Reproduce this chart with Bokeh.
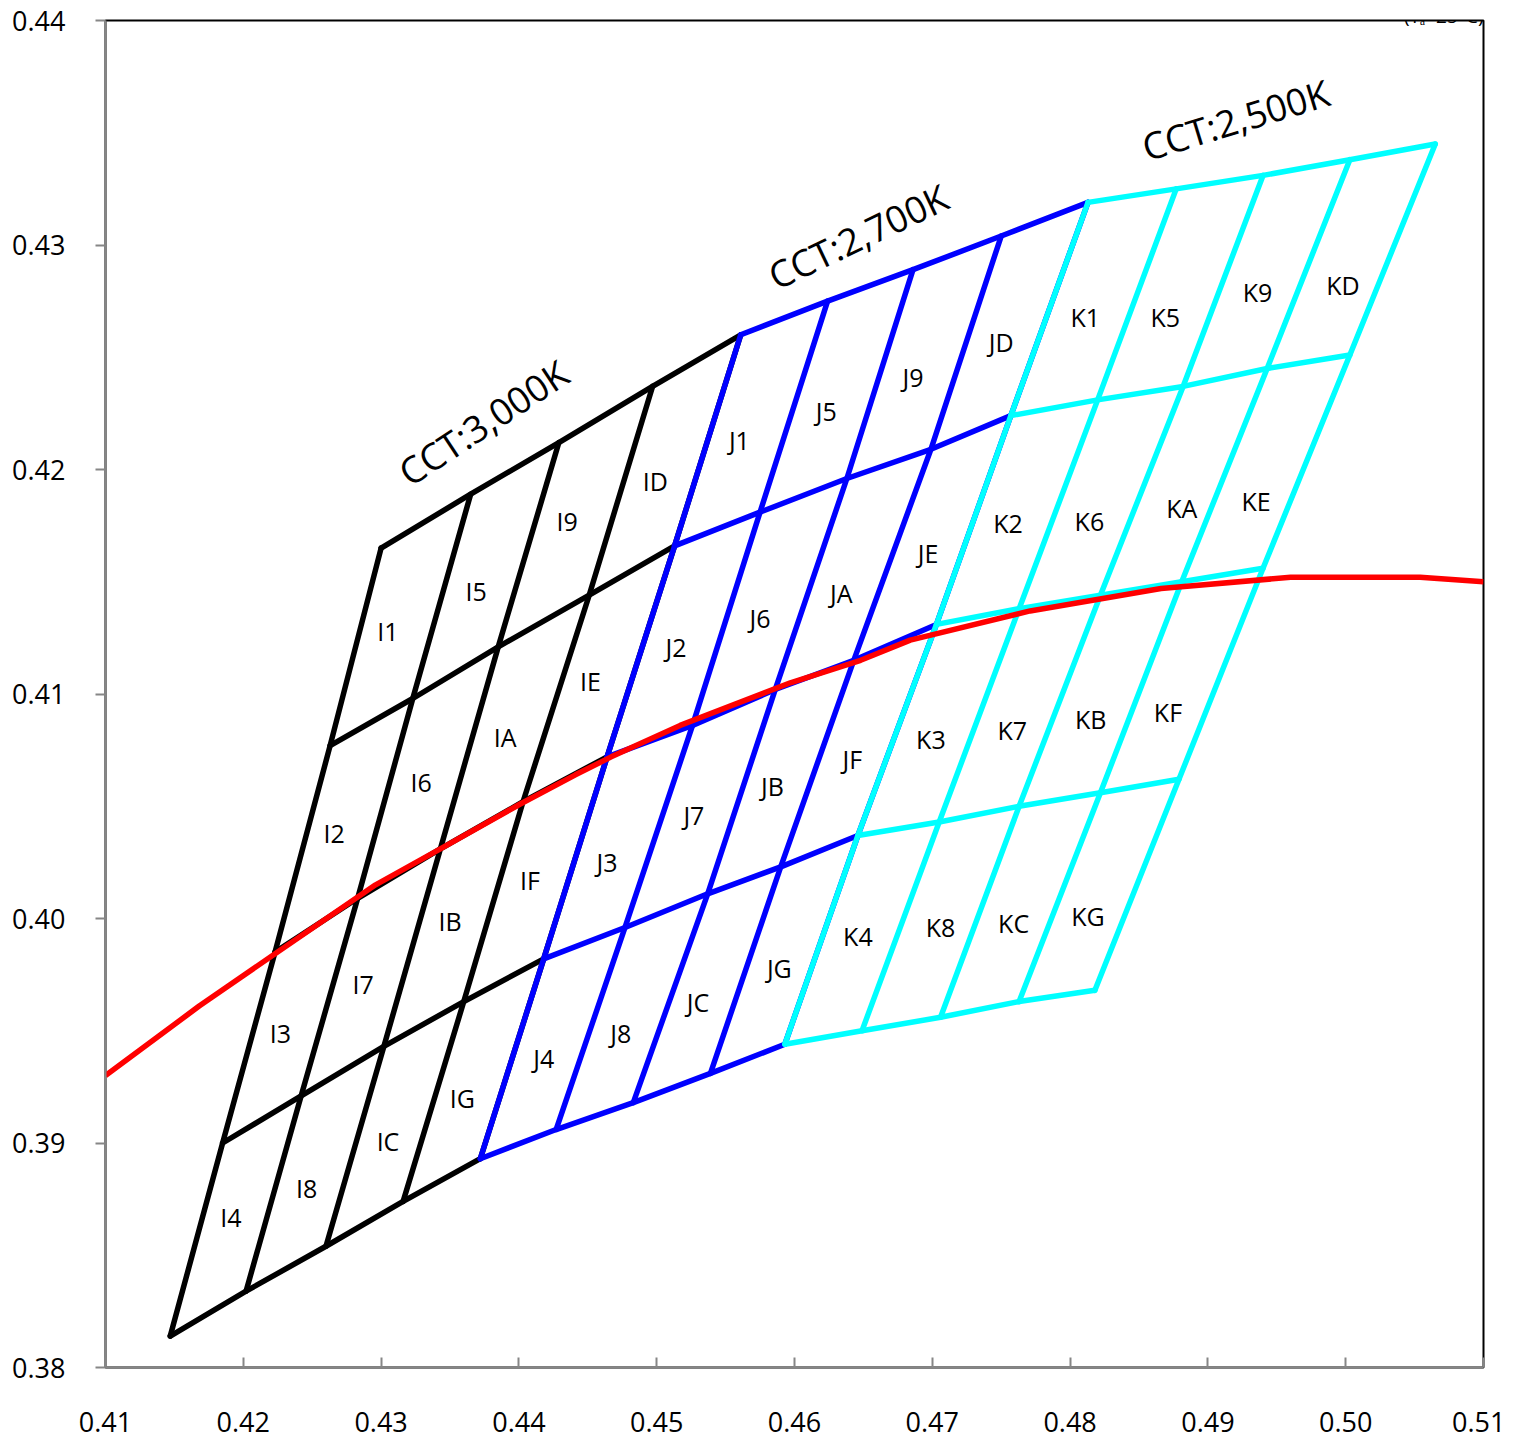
from bokeh.plotting import figure
from bokeh.models import Range1d, FixedTicker, NumeralTickFormatter, Label
from bokeh.embed import file_html
from bokeh.resources import INLINE
from bokeh.core.properties import value

# ---------------- data ----------------
x_ticks = [0.41, 0.42, 0.43, 0.44, 0.45, 0.46, 0.47, 0.48, 0.49, 0.50, 0.51]
y_ticks = [0.38, 0.39, 0.40, 0.41, 0.42, 0.43, 0.44]

# CCT 3,000K grid nodes (rows top->bottom, columns left->right)
I_x = [
    [0.4300, 0.4365, 0.4429, 0.4497, 0.4561],
    [0.4263, 0.4323, 0.4385, 0.4451, 0.4513],
    [0.4223, 0.4283, 0.4343, 0.4403, 0.4464],
    [0.4185, 0.4242, 0.4302, 0.4360, 0.4418],
    [0.4147, 0.4202, 0.4260, 0.4316, 0.4372],
]
I_y = [
    [0.4165, 0.4189, 0.4212, 0.4237, 0.4260],
    [0.4077, 0.4098, 0.4121, 0.4144, 0.4166],
    [0.3985, 0.4009, 0.4031, 0.4052, 0.4072],
    [0.3900, 0.3921, 0.3943, 0.3963, 0.3982],
    [0.3814, 0.3834, 0.3854, 0.3874, 0.3893],
]
# CCT 2,700K grid nodes
J_x = [
    [0.4561, 0.4624, 0.4686, 0.4750, 0.4813],
    [0.4513, 0.4575, 0.4638, 0.4699, 0.4757],
    [0.4464, 0.4526, 0.4586, 0.4643, 0.4703],
    [0.4418, 0.4477, 0.4537, 0.4590, 0.4646],
    [0.4372, 0.4427, 0.4483, 0.4539, 0.4593],
]
J_y = [
    [0.4260, 0.4275, 0.4289, 0.4304, 0.4319],
    [0.4166, 0.4181, 0.4196, 0.4209, 0.4224],
    [0.4072, 0.4086, 0.4102, 0.4115, 0.4131],
    [0.3982, 0.3996, 0.4011, 0.4023, 0.4037],
    [0.3893, 0.3906, 0.3918, 0.3931, 0.3944],
]
# CCT 2,500K grid nodes
K_x = [
    [0.4813, 0.4877, 0.4940, 0.5003, 0.5065],
    [0.4757, 0.4820, 0.4882, 0.4943, 0.5003],
    [0.4703, 0.4763, 0.4822, 0.4881, 0.4940],
    [0.4646, 0.4705, 0.4763, 0.4822, 0.4879],
    [0.4593, 0.4649, 0.4706, 0.4763, 0.4818],
]
K_y = [
    [0.4319, 0.4325, 0.4331, 0.4338, 0.4345],
    [0.4224, 0.4231, 0.4237, 0.4245, 0.4251],
    [0.4131, 0.4138, 0.4144, 0.4150, 0.4156],
    [0.4037, 0.4043, 0.4050, 0.4056, 0.4062],
    [0.3944, 0.3950, 0.3956, 0.3963, 0.3968],
]

# Planckian locus (red)
planck_x = [0.4100, 0.4168, 0.4227, 0.4296, 0.4343, 0.4401, 0.4441, 0.4467, 0.4517,
            0.4597, 0.4648, 0.4684, 0.4771, 0.4866, 0.4960, 0.5054, 0.5100]
planck_y = [0.3930, 0.3961, 0.3986, 0.4015, 0.4031, 0.4051, 0.4064, 0.4072, 0.4086,
            0.4105, 0.4115, 0.4124, 0.4137, 0.4147, 0.4152, 0.4152, 0.4150]

# bin labels
bin_names = ["I1", "I5", "I9", "ID", "I2", "I6", "IA", "IE",
             "I3", "I7", "IB", "IF", "I4", "I8", "IC", "IG",
             "J1", "J5", "J9", "JD", "J2", "J6", "JA", "JE",
             "J3", "J7", "JB", "JF", "J4", "J8", "JC", "JG",
             "K1", "K5", "K9", "KD", "K2", "K6", "KA", "KE",
             "K3", "K7", "KB", "KF", "K4", "K8", "KC", "KG"]
bin_x = [0.4305, 0.4369, 0.4435, 0.4499, 0.4266, 0.4329, 0.4390, 0.4452,
         0.4227, 0.4287, 0.4350, 0.4408, 0.4191, 0.4246, 0.4305, 0.4359,
         0.4560, 0.4623, 0.4686, 0.4750, 0.4514, 0.4575, 0.4634, 0.4697,
         0.4464, 0.4527, 0.4584, 0.4642, 0.4418, 0.4474, 0.4530, 0.4589,
         0.4811, 0.4869, 0.4936, 0.4998, 0.4755, 0.4814, 0.4881, 0.4935,
         0.4699, 0.4758, 0.4815, 0.4871, 0.4646, 0.4706, 0.4759, 0.4813]
bin_y = [0.4128, 0.4146, 0.4177, 0.4195, 0.4038, 0.4061, 0.4081, 0.4106,
         0.3949, 0.3971, 0.3999, 0.4017, 0.3867, 0.3880, 0.3901, 0.3920,
         0.4213, 0.4226, 0.4241, 0.4257, 0.4121, 0.4134, 0.4145, 0.4163,
         0.4025, 0.4046, 0.4059, 0.4071, 0.3938, 0.3949, 0.3963, 0.3978,
         0.4268, 0.4268, 0.4279, 0.4282, 0.4176, 0.4177, 0.4183, 0.4186,
         0.4080, 0.4084, 0.4089, 0.4092, 0.3992, 0.3996, 0.3998, 0.4001]

cct_names = ["CCT:3,000K", "CCT:2,700K", "CCT:2,500K"]
cct_x = [0.4374, 0.4646, 0.4920]
cct_y = [0.4221, 0.4304, 0.4356]
cct_angle = [33.5, 25.5, 17.0]

note_text = "(T\u2090=25\u00b0C)"

# ---------------- figure ----------------
FONT = "Open Sans"
p = figure(width=1505, height=1440,
           x_range=Range1d(0.41, 0.51), y_range=Range1d(0.38, 0.44),
           output_backend="svg", toolbar_location=None,
           min_border_left=105, min_border_right=22,
           min_border_top=20, min_border_bottom=73)
p.grid.visible = False
p.background_fill_color = "white"
p.border_fill_color = "white"
p.outline_line_color = "black"
p.outline_line_width = 2

for ax in (p.xaxis, p.yaxis):
    ax.axis_line_color = "#868686"
    ax.axis_line_width = 2
    ax.major_tick_line_color = "#868686"
    ax.major_tick_line_width = 2
    ax.minor_tick_line_color = None
    ax.major_label_text_font = FONT
    ax.major_label_text_font_size = "27px"
    ax.major_label_text_color = "black"
    ax.formatter = NumeralTickFormatter(format="0.00")

p.xaxis.ticker = FixedTicker(ticks=x_ticks)
p.yaxis.ticker = FixedTicker(ticks=y_ticks)
p.xaxis.major_tick_in = 10
p.xaxis.major_tick_out = 0
p.xaxis.major_label_standoff = 44
p.yaxis.major_tick_in = 0
p.yaxis.major_tick_out = 10
p.yaxis.major_label_standoff = 30


def grid_lines(gx, gy):
    xs, ys = [], []
    n_r, n_c = len(gx), len(gx[0])
    for i in range(n_r):
        xs.append(list(gx[i]))
        ys.append(list(gy[i]))
    for j in range(n_c):
        xs.append([gx[i][j] for i in range(n_r)])
        ys.append([gy[i][j] for i in range(n_r)])
    return xs, ys


for gx, gy, col in ((I_x, I_y, "#000000"), (J_x, J_y, "#0000FF"), (K_x, K_y, "#00FFFF")):
    xs, ys = grid_lines(gx, gy)
    p.multi_line(xs, ys, line_color=col, line_width=5.5, line_join="round", line_cap="round")

p.line(planck_x, planck_y, line_color="#FF0000", line_width=5.5, line_join="round")

p.text(x=bin_x, y=bin_y, text=bin_names, text_align="center", text_baseline="middle",
       text_font=value(FONT), text_font_size="25px", text_color="black")

p.text(x=cct_x, y=cct_y, text=cct_names, angle=cct_angle, angle_units="deg",
       text_align="center", text_baseline="middle",
       text_font=value(FONT), text_font_size="37px", text_color="black")

p.add_layout(Label(x=0.51, y=0.44018, text=note_text, text_align="right",
                   text_baseline="alphabetic", text_font=FONT,
                   text_font_size="19px", text_color="black"))

open("out.html", "w").write(file_html(p, INLINE))
